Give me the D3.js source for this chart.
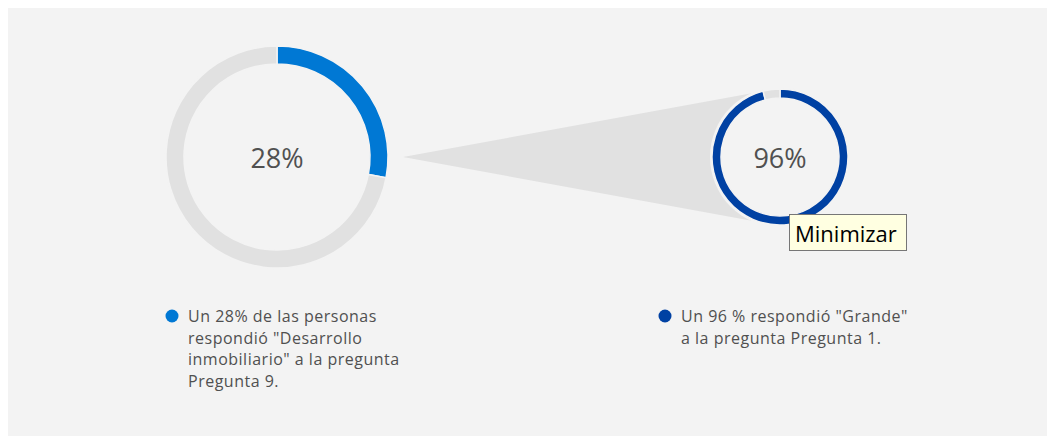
<!DOCTYPE html>
<html><head><meta charset="utf-8">
<script src="https://cdn.jsdelivr.net/npm/d3@7"></script>
<style>html,body{margin:0;padding:0;background:#fff;}svg{display:block;}</style>
</head><body>
<svg id="c" width="1047" height="437"></svg>
<script>
const percents = [28, 96];
const centerLabels = ["28%", "96%"];
const sliceColors = ["#0078d4", "#0041a3"];
const legendLines = [
  ["Un 28% de las personas", "respondió \"Desarrollo", "inmobiliario\" a la pregunta", "Pregunta 9."],
  ["Un 96 % respondió \"Grande\"", "a la pregunta Pregunta 1."]
];
const tooltipText = "Minimizar";

const svg = d3.select("#c");
const W = 1047, H = 437;
const font = "'Open Sans', 'Noto Sans', sans-serif";

svg.append("rect").attr("x", 8).attr("y", 8).attr("width", W - 8).attr("height", H - 9).attr("fill", "#f3f3f3");

const donuts = [
  {cx: 277, cy: 157, ro: 111, ri: 93},
  {cx: 780, cy: 157, ro: 68, ri: 59}
];

// wedge from big donut to small donut
const d0 = donuts[0], d1 = donuts[1];
svg.append("path")
  .attr("d", d3.line()([[d0.cx + d0.ro + 15, d0.cy], [d1.cx, d1.cy - d1.ro - 1], [d1.cx, d1.cy + d1.ro + 1]]) + "Z")
  .attr("fill", "#e1e1e1");

const pie = d3.pie().sort(null).value(d => d);

donuts.forEach((d, i) => {
  const g = svg.append("g").attr("transform", `translate(${d.cx},${d.cy})`);
  g.append("circle").attr("r", d.ro + 2).attr("fill", "#f3f3f3");
  const arcs = pie([percents[i], 100 - percents[i]]);
  const arc = d3.arc().innerRadius(d.ri).outerRadius(d.ro);
  g.selectAll("path.s").data(arcs).join("path")
    .attr("d", arc)
    .attr("fill", (a, j) => j === 0 ? sliceColors[i] : "#e1e1e1")
    .attr("stroke", "#f3f3f3").attr("stroke-width", 1.5);
  g.append("text").attr("text-anchor", "middle").attr("y", 11)
    .attr("font-family", font).attr("font-size", 27).attr("fill", "#505050")
    .text(centerLabels[i]);
});

// legends
const legendPos = [{x: 172, y: 316}, {x: 665, y: 316}];
legendPos.forEach((p, i) => {
  svg.append("circle").attr("cx", p.x).attr("cy", p.y).attr("r", 6.5).attr("fill", sliceColors[i]);
  const t = svg.append("text").attr("font-family", font).attr("font-size", 16)
    .attr("letter-spacing", 0.5).attr("fill", "#505050");
  legendLines[i].forEach((ln, k) => {
    t.append("tspan").attr("x", p.x + 16).attr("y", p.y + 6 + k * 21.5).text(ln);
  });
});

// tooltip
const tg = svg.append("g").attr("transform", "translate(789,214)");
tg.append("rect").attr("x", 0.5).attr("y", 0.5).attr("width", 117).attr("height", 36)
  .attr("fill", "#ffffe1").attr("stroke", "#767676").attr("stroke-width", 1);
tg.append("text").attr("x", 6).attr("y", 28).attr("font-family", font).attr("font-size", 22).attr("fill", "#000").text(tooltipText);
</script>
</body></html>
